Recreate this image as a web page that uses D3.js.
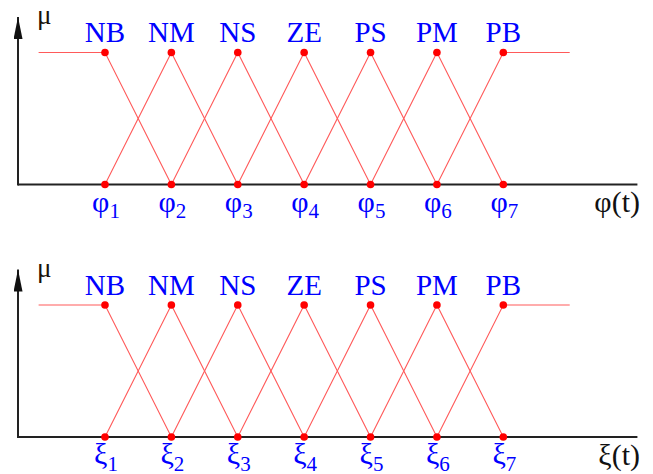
<!DOCTYPE html>
<html>
<head>
<meta charset="utf-8">
<script src="https://cdn.jsdelivr.net/npm/d3@7"></script>
<style>
  body { margin: 0; background: #fff; }
  svg { display: block; }
</style>
</head>
<body>
<div id="chart"></div>
<script>
// fuzzy set names and their centres on the universe of discourse
var terms = ['NB', 'NM', 'NS', 'ZE', 'PS', 'PM', 'PB'];
var centers = [1, 2, 3, 4, 5, 6, 7];
// the two inputs: variable symbol, label of the axis
var variables = ['\u03C6', '\u03BE'];
var axisNames = ['\u03C6(t)', '\u03BE(t)'];
// outer ends of the shoulder sets
var leftEnd = 0, rightEnd = 8;

var width = 653, height = 474;
var serif = '"Liberation Serif", "Times New Roman", serif';

var svg = d3.select('#chart')
    .append('svg')
    .attr('width', width)
    .attr('height', height);

svg.append('defs').append('marker')
    .attr('id', 'arrow')
    .attr('viewBox', '0 0 9 22')
    .attr('refX', 4.5).attr('refY', 0)
    .attr('markerWidth', 9).attr('markerHeight', 22)
    .attr('markerUnits', 'userSpaceOnUse')
    .attr('orient', '0')
    .append('path')
    .attr('d', 'M0,22 L4.5,0 L9,22 Z')
    .attr('fill', '#111');

var x = d3.scaleLinear()
    .domain([0, 8])
    .range([38.6, 569.7]);

// panel vertical offsets
var panels = [0, 252.5];

panels.forEach(function(dy, p) {
    var y = d3.scaleLinear()
        .domain([0, 1])
        .range([184.5 + dy, 52.5 + dy]);

    var g = svg.append('g');

    // membership functions, one polyline per term
    terms.forEach(function(t, i) {
        var c = centers[i];
        var pts;
        if (i === 0) {
            pts = [[leftEnd, 1], [c, 1], [centers[i + 1], 0]];
        } else if (i === terms.length - 1) {
            pts = [[centers[i - 1], 0], [c, 1], [rightEnd, 1]];
        } else {
            pts = [[centers[i - 1], 0], [c, 1], [centers[i + 1], 0]];
        }
        g.append('path')
            .attr('d', d3.line()
                .x(function(d) { return x(d[0]); })
                .y(function(d) { return y(d[1]); })(pts))
            .attr('fill', 'none')
            .attr('stroke', '#ff5a5a')
            .attr('stroke-width', 1.1);
    });

    // axes
    g.append('line')
        .attr('x1', x(-0.31)).attr('x2', x(9.02))
        .attr('y1', y(0)).attr('y2', y(0))
        .attr('stroke', '#222')
        .attr('stroke-width', 2);

    g.append('line')
        .attr('x1', x(-0.31)).attr('x2', x(-0.31))
        .attr('y1', y(0) + 1).attr('y2', 17 + dy)
        .attr('stroke', '#222')
        .attr('stroke-width', 2)
        .attr('marker-end', 'url(#arrow)');

    // points at top and bottom of each centre
    [0, 1].forEach(function(v) {
        g.selectAll(null)
            .data(centers)
            .enter()
            .append('circle')
            .attr('cx', function(d) { return x(d); })
            .attr('cy', y(v))
            .attr('r', 3.8)
            .attr('fill', '#ff0000');
    });

    // term names
    g.selectAll(null)
        .data(terms)
        .enter()
        .append('text')
        .attr('x', function(d, i) { return x(centers[i]); })
        .attr('y', 42 + dy)
        .attr('text-anchor', 'middle')
        .style('font-family', serif)
        .style('font-size', '29px')
        .style('fill', '#0000ff')
        .text(function(d) { return d; });

    // variable ticks with subscript
    var lab = g.selectAll(null)
        .data(centers)
        .enter()
        .append('text')
        .attr('x', function(d) { return x(d) + 1; })
        .attr('y', 211.5 + dy)
        .attr('text-anchor', 'middle')
        .style('font-family', serif)
        .style('font-size', '30px')
        .style('fill', '#0000ff');
    lab.append('tspan').text(variables[p]);
    lab.append('tspan')
        .attr('dy', 6.5)
        .style('font-size', '21px')
        .text(function(d, i) { return i + 1; });

    // mu label
    g.append('text')
        .attr('x', 37)
        .attr('y', 24 + dy)
        .style('font-family', serif)
        .style('font-size', '27px')
        .style('fill', '#1a1208')
        .text('\u03BC');

    // axis name
    g.append('text')
        .attr('x', 640)
        .attr('y', 212 + dy)
        .attr('text-anchor', 'end')
        .style('font-family', serif)
        .style('font-size', '30px')
        .style('fill', '#111')
        .text(axisNames[p]);
});
</script>
</body>
</html>
